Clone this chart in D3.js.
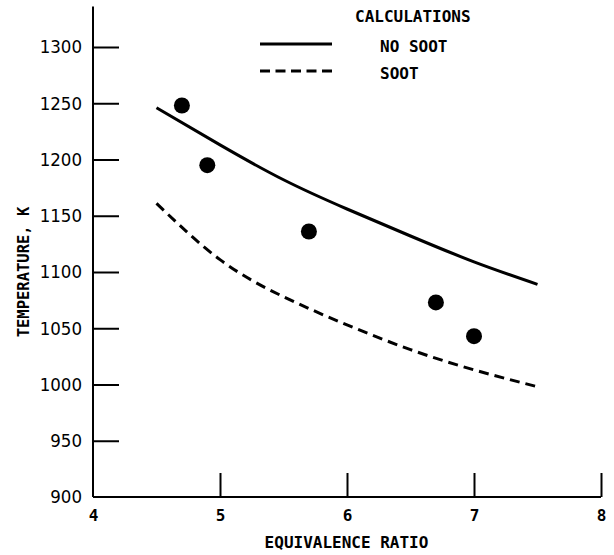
<!DOCTYPE html>
<html>
<head>
<meta charset="utf-8">
<script src="https://cdn.jsdelivr.net/npm/d3@7"></script>
<style>
  html, body { margin: 0; padding: 0; background: #fff; }
  svg { display: block; }
  .mono { font-family: "DejaVu Sans Mono", "Liberation Mono", monospace; }
  .narrow { font-family: "Liberation Sans Narrow", "DejaVu Sans Condensed", "Arial Narrow", sans-serif; }
</style>
</head>
<body>
<svg id="chart" width="614" height="555"></svg>
<script>
// ---- data ----
const calcRatio = [4.5, 5.0, 5.5, 6.0, 6.5, 7.0, 7.5];
const noSootTemp = [1246, 1213, 1182, 1156, 1132, 1109, 1089];
const sootTemp = [1161, 1111, 1078, 1053, 1031, 1013, 998];
const measRatio = [4.7, 4.9, 5.7, 6.7, 7.0];
const measTemp = [1248, 1195, 1136, 1073, 1043];
const xTicks = [4, 5, 6, 7, 8];
const yTicks = [900, 950, 1000, 1050, 1100, 1150, 1200, 1250, 1300];
const legendTitle = "CALCULATIONS";
const legendLabels = ["NO SOOT", "SOOT"];
const xTitle = "EQUIVALENCE RATIO";
const yTitle = "TEMPERATURE, K";

const svg = d3.select("#chart");
const x = d3.scaleLinear().domain([4, 8]).range([93, 601]);
const y = d3.scaleLinear().domain([900, 1300]).range([497, 47]);
const yTop = 1336;

// axis lines
svg.append("line").attr("x1", x(4)).attr("x2", x(4))
  .attr("y1", y(900)).attr("y2", y(yTop))
  .attr("stroke", "#000").attr("stroke-width", 2);
svg.append("line").attr("x1", x(4)).attr("x2", x(8))
  .attr("y1", y(900)).attr("y2", y(900))
  .attr("stroke", "#000").attr("stroke-width", 2);

// y axis
const yAxis = svg.append("g").attr("transform", `translate(${x(4)},0)`)
  .call(d3.axisLeft(y).tickValues(yTicks).tickSize(-26).tickPadding(11).tickFormat(d3.format("d")));
yAxis.select(".domain").remove();
yAxis.selectAll(".tick line").attr("stroke", "#000").attr("stroke-width", 2);
yAxis.selectAll(".tick text").attr("class", "narrow").attr("font-size", "18.5px").attr("fill", "#000");
yAxis.selectAll(".tick").filter(d => d === 900).select("line").remove();

// x axis
const xAxis = svg.append("g").attr("transform", `translate(0,${y(900)})`)
  .call(d3.axisBottom(x).tickValues(xTicks).tickSize(-24).tickPadding(13).tickFormat(d3.format("d")));
xAxis.select(".domain").remove();
xAxis.selectAll(".tick line").attr("stroke", "#000").attr("stroke-width", 2);
xAxis.selectAll(".tick").filter(d => d === 4).select("line").remove();
xAxis.selectAll(".tick text").attr("class", "mono").attr("font-size", "16px")
  .attr("font-weight", "bold").attr("fill", "#000");

// axis titles
svg.append("text").attr("class", "mono").attr("font-weight", "bold")
  .attr("x", 346.5).attr("y", 548).attr("text-anchor", "middle")
  .attr("font-size", "16px").text(xTitle);
svg.append("text").attr("class", "mono").attr("font-weight", "bold")
  .attr("transform", "translate(29,272) rotate(-90)").attr("text-anchor", "middle")
  .attr("font-size", "15.5px").text(yTitle);

// curves
const line = d3.line().x(d => x(d[0])).y(d => y(d[1])).curve(d3.curveNatural);
svg.append("path").datum(calcRatio.map((r, i) => [r, noSootTemp[i]]))
  .attr("d", line).attr("fill", "none").attr("stroke", "#000").attr("stroke-width", 3);
svg.append("path").datum(calcRatio.map((r, i) => [r, sootTemp[i]]))
  .attr("d", line).attr("fill", "none").attr("stroke", "#000").attr("stroke-width", 3)
  .attr("stroke-dasharray", "10,6");

// measured points
svg.selectAll("circle.pt").data(measRatio.map((r, i) => [r, measTemp[i]]))
  .enter().append("circle").attr("class", "pt")
  .attr("cx", d => x(d[0])).attr("cy", d => y(d[1])).attr("r", 8).attr("fill", "#000");

// legend
svg.append("text").attr("class", "mono").attr("font-weight", "bold").attr("x", 355).attr("y", 22)
  .attr("font-size", "16px").text(legendTitle);
svg.append("line").attr("x1", 260).attr("x2", 332).attr("y1", 44).attr("y2", 44)
  .attr("stroke", "#000").attr("stroke-width", 3);
svg.append("line").attr("x1", 260).attr("x2", 332).attr("y1", 71).attr("y2", 71)
  .attr("stroke", "#000").attr("stroke-width", 3).attr("stroke-dasharray", "10,5.5");
svg.append("text").attr("class", "mono").attr("font-weight", "bold").attr("x", 380).attr("y", 52)
  .attr("font-size", "16px").text(legendLabels[0]);
svg.append("text").attr("class", "mono").attr("font-weight", "bold").attr("x", 380).attr("y", 79)
  .attr("font-size", "16px").text(legendLabels[1]);
</script>
</body>
</html>
